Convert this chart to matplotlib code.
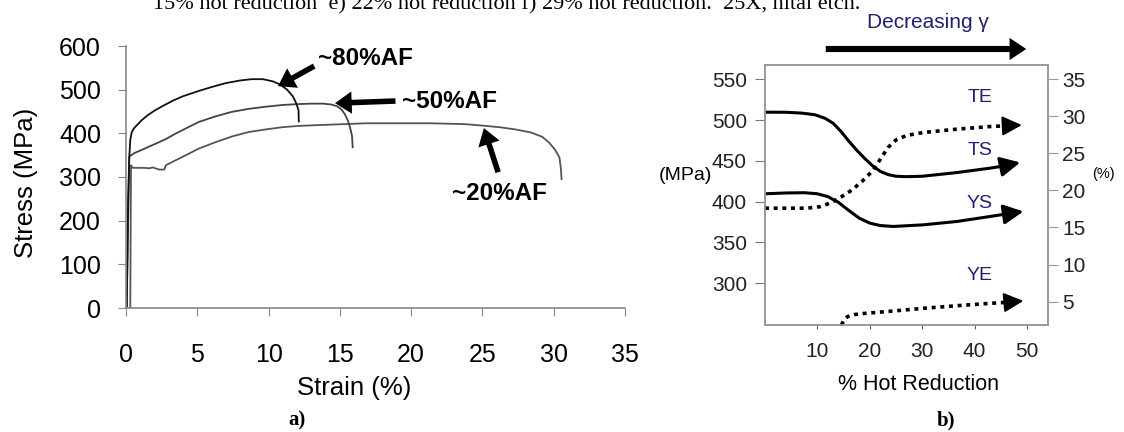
import matplotlib
matplotlib.use("Agg")
import matplotlib.pyplot as plt
from matplotlib.patches import FancyArrowPatch

W, H = 1124, 432

# ---- panel a) stress-strain curves
af80_strain = [0.05, 0.15, 0.23, 0.3, 0.4, 0.55, 0.8, 1.1, 1.5, 2, 2.6, 3.3, 4, 5, 6, 7, 8, 8.8,
               9.6, 10.3, 10.8, 11.3, 11.7, 11.95, 12.1, 12.12]
af80_stress = [0, 250, 345, 385, 402, 411, 420, 430, 441, 452, 463, 475, 485, 496, 506, 515, 521, 524,
               524, 519, 512, 500, 485, 468, 453, 427]
af50_strain = [0.05, 0.15, 0.23, 0.6, 1.1, 1.64, 2.2, 2.8, 3.4, 4, 5.1, 6.2, 7.4, 8.6, 9.8, 11, 12.1, 13,
               13.8, 14.4, 14.8, 15.1, 15.35, 15.55, 15.7, 15.85, 15.9]
af50_stress = [0, 200, 347, 355, 362, 370, 378, 387, 398, 408, 426, 438, 449, 456, 461, 465, 467, 468,
               468, 466, 462, 455, 444, 430, 415, 395, 368]
af20_strain = [0.3, 0.35, 0.47, 1.17, 1.64, 1.87, 2.33, 2.68, 2.8, 3.4, 3.96, 5.1, 6.3, 7.45, 8.6, 9.8,
               10.95, 12.1, 14.4, 16.8, 19.1, 21.4, 23.8, 24.9, 26.2, 27.3, 28.4, 29.2, 29.7, 30.1,
               30.4, 30.5, 30.55]
af20_stress = [0, 327, 321, 321, 320, 322, 317, 317, 327, 337, 346, 365, 380, 393, 403, 409,
               414, 417, 420, 423, 423, 423, 421, 418, 414, 409, 402, 392, 378, 362, 345, 320, 295]
x_ticks_a = [0, 5, 10, 15, 20, 25, 30, 35]
y_ticks_a = [0, 100, 200, 300, 400, 500, 600]

# label text, text position, arrow tail, arrow tip (data units)
notes_a = [("~80%AF", (13.5, 572), (13.2, 554), (10.66, 508)),
           ("~50%AF", (19.35, 474), (18.9, 474), (14.66, 469)),
           ("~20%AF", (22.9, 263), (26.1, 311), (25.1, 412))]

# ---- panel b) properties vs hot reduction (last point = arrow tip)
ts_x = [0, 4, 7, 9.5, 11.5, 13, 14.5, 16, 17.5, 19, 20.5, 22, 23.5, 25, 27, 30, 36.6, 42.9, 45.5, 48.7]
ts_mpa = [509.6, 509.5, 508.5, 506.5, 502, 496, 486, 474, 463, 453, 444, 437, 433, 431, 430.5, 431,
          435.5, 440.9, 443.5, 448]
ys_x = [0, 4, 7.5, 10, 12, 14, 16, 18, 20, 22, 24.5, 30.2, 36.6, 42.9, 45.8, 49.3]
ys_mpa = [409.5, 410.5, 410.8, 409.5, 406, 399, 389, 379.5, 373.5, 370.5, 369.4, 371.4, 375.5, 381.6,
          384.5, 387.8]
te_x = [0, 8, 10.5, 12.5, 14.5, 16.5, 18.5, 20.5, 22, 23.5, 25, 27, 30.2, 36.6, 42.9, 45.8, 49]
te_pct = [17.6, 17.6, 17.8, 18.3, 19.1, 20.0, 21.2, 22.6, 24.2, 25.8, 26.8, 27.4, 27.8, 28.25, 28.6,
          28.7, 28.8]
ye_x = [14.6, 15.1, 15.8, 17, 18.8, 23.9, 30.2, 36.6, 42.9, 46, 49.3]
ye_pct = [1.85, 2.6, 3.0, 3.25, 3.4, 3.7, 4.1, 4.45, 4.77, 4.9, 5.1]
x_ticks_b = [10, 20, 30, 40, 50]
y_ticks_mpa = [300, 350, 400, 450, 500, 550]
y_ticks_pct = [5, 10, 15, 20, 25, 30, 35]
curve_labels = [("TE", 528), ("TS", 462), ("YS", 398), ("YE", 309)]

caption = "15% hot reduction  e) 22% hot reduction f) 29% hot reduction.  25X, nital etch."

SANS = ["Liberation Sans", "DejaVu Sans"]
NAVY = "#20206e"


def fx(x):
    return x / W


def fy(y):
    return 1 - y / H


fig = plt.figure(figsize=(W / 100, H / 100), dpi=100)

# ---------------- a)
ax = fig.add_axes([fx(126), fy(308), (625 - 126) / W, (308 - 46) / H])
ax.plot(af20_strain, af20_stress, color="#555555", lw=1.3)
ax.plot(af50_strain, af50_stress, color="#444444", lw=1.3)
ax.plot(af80_strain, af80_stress, color="#111111", lw=1.3)
ax.set_xlim(0, 35)
ax.set_ylim(0, 600)
ax.set_xticks(x_ticks_a)
ax.set_yticks(y_ticks_a)
for s in ("top", "right"):
    ax.spines[s].set_visible(False)
for s in ("left", "bottom"):
    ax.spines[s].set_color("#888888")
    ax.spines[s].set_linewidth(1.2)
ax.tick_params(axis="y", direction="out", length=6, color="#888888", pad=12)
ax.tick_params(axis="x", direction="out", length=6, color="#888888", pad=19)
for lab in ax.get_xticklabels() + ax.get_yticklabels():
    lab.set_family(SANS)
    lab.set_fontsize(18)

for txt, tpos, tail, tip in notes_a:
    ax.text(tpos[0], tpos[1], txt, fontsize=17.5, fontweight="bold", family=SANS,
            ha="left", va="center")
    ax.annotate("", xy=tip, xytext=tail,
                arrowprops=dict(arrowstyle="simple,head_length=0.6,head_width=0.8,tail_width=0.2",
                                fc="black", ec="none", mutation_scale=20,
                                shrinkA=0, shrinkB=0))

fig.text(fx(26), fy(183), "Stress (MPa)", rotation=90, fontsize=18.5, family=SANS,
         ha="center", va="center")
fig.text(fx(354), fy(388), "Strain (%)", fontsize=18.5, family=SANS, ha="center", va="center")
fig.text(fx(297), fy(420), "a)", fontsize=15, fontweight="bold", family="Liberation Serif",
         ha="center", va="center")

# ---------------- b)
bx = fig.add_axes([fx(765), fy(325), (1048 - 765) / W, (325 - 65) / H])
bx2 = bx.twinx()
bx.set_xlim(0, 54)
bx.set_ylim(248.5, 567.5)
bx2.set_ylim(1.85, 36.9)

head = "-|>,head_length=0.6,head_width=0.3"
for xs, vs in ((ts_x, ts_mpa), (ys_x, ys_mpa)):
    bx.plot(xs[:-1], vs[:-1], color="black", lw=2.2, solid_capstyle="butt")
    bx.annotate("", xy=(xs[-1], vs[-1]), xytext=(xs[-2], vs[-2]),
                arrowprops=dict(arrowstyle=head, color="black", lw=2.2, mutation_scale=20,
                                shrinkA=0, shrinkB=0))
for xs, vs in ((te_x, te_pct), (ye_x, ye_pct)):
    bx2.plot(xs[:-1], vs[:-1], color="black", lw=2.6, linestyle=(0, (1.1, 1.3)),
             dash_capstyle="butt")
    bx2.annotate("", xy=(xs[-1], vs[-1]), xytext=(xs[-2], vs[-2]),
                 arrowprops=dict(arrowstyle=head, color="black", lw=1.5, mutation_scale=20,
                                 shrinkA=0, shrinkB=0))

for name, yv in curve_labels:
    bx.text(41, yv, name, color=NAVY, fontsize=14, family=SANS, ha="center", va="center")

bx.set_xticks(x_ticks_b)
bx.set_yticks(y_ticks_mpa)
bx2.set_yticks(y_ticks_pct)
for a in (bx, bx2):
    for s in a.spines.values():
        s.set_color("#999999")
        s.set_linewidth(1.2)
bx.tick_params(axis="y", direction="out", length=7, color="#7070aa", pad=6)
bx.tick_params(axis="x", direction="out", length=3, color="#5050aa", pad=9)
bx2.tick_params(axis="y", direction="out", length=7, color="#999999", pad=3)
for lab in bx.get_xticklabels() + bx.get_yticklabels() + bx2.get_yticklabels():
    lab.set_family(SANS)
    lab.set_fontsize(15)
    lab.set_color("#222222")

fig.text(fx(712), fy(175), "(MPa)", fontsize=14, family=SANS, ha="right", va="center")
fig.text(fx(1103), fy(174), "(%)", fontsize=10.5, family=SANS, ha="center", va="center")
fig.text(fx(918), fy(385), "% Hot Reduction", fontsize=15.5, family=SANS,
         ha="center", va="center")
fig.text(fx(946), fy(420), "b)", fontsize=15, fontweight="bold", family="Liberation Serif",
         ha="center", va="center")

# decreasing gamma banner
fig.text(fx(928), fy(23), "Decreasing \u03b3", color=NAVY, fontsize=15, family=SANS,
         ha="center", va="center")
fig.add_artist(FancyArrowPatch((fx(823), fy(49)), (fx(1029), fy(49)),
                               transform=fig.transFigure,
                               arrowstyle="simple,head_length=0.6,head_width=0.8,tail_width=0.22",
                               mutation_scale=20, fc="black", ec="none"))

# clipped caption line from the source page (cut at the top edge, as in the source)
fig.text(fx(153), fy(9), caption, fontsize=16, family="Liberation Serif",
         ha="left", va="baseline")

fig.savefig("out.png", dpi=100)
